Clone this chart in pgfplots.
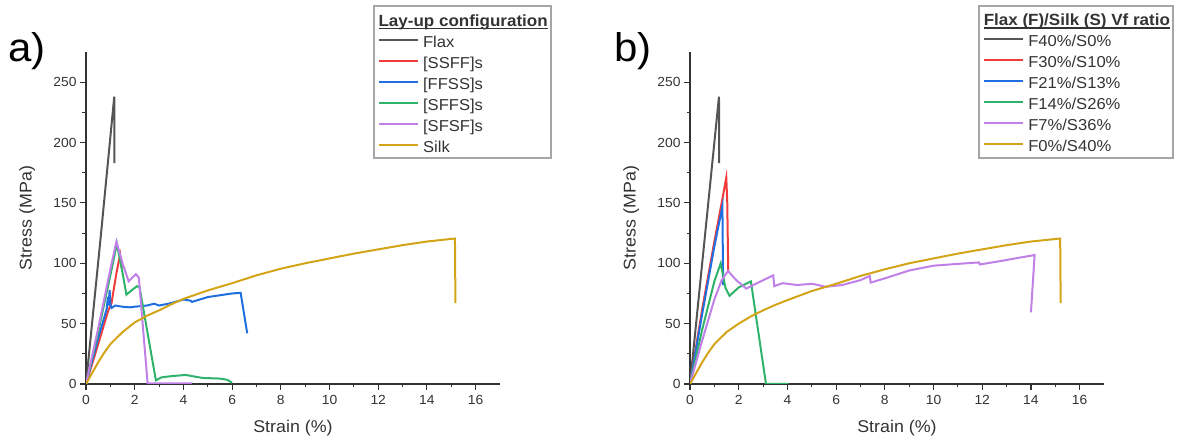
\documentclass[border=0pt]{standalone}
\usepackage{pgfplots}
\pgfplotsset{compat=1.18}
\usepackage{fontspec}
\setmainfont{Liberation Sans}[FakeStretch=1.05]

\definecolor{cflax}{HTML}{555555}
\definecolor{cred}{HTML}{F23C3C}
\definecolor{cblue}{HTML}{1F6FE0}
\definecolor{cgreen}{HTML}{2FB36A}
\definecolor{cpurple}{HTML}{C080E8}
\definecolor{cgold}{HTML}{D4A418}
\definecolor{axgray}{HTML}{333333}

% bold title with a thick underline
\newcommand\ultitle[1]{\setbox0\hbox{\fontsize{16.2}{18}\selectfont\bfseries #1}\rlap{\rule[-3.2pt]{\wd0}{1.4pt}}\box0}

\pgfplotsset{
  stressstrain/.style={
    width=414pt, height=332pt, scale only axis,
    xmin=0, xmax=17, ymin=0, ymax=275,
    xtick={0,2,...,16}, ytick={0,50,...,250},
    minor x tick num=1, minor y tick num=1,
    axis x line*=bottom, axis y line*=left,
    axis line style={-, line width=1.3pt, draw=axgray},
    tick align=outside,
    major tick length=6pt, minor tick length=3.5pt,
    every tick/.style={line width=1.1pt, draw=axgray},
    /pgf/number format/assume math mode=true,
    ticklabel style={font=\fontsize{13.2}{15}\selectfont, text=axgray},
    xticklabel style={yshift=-2pt},
    label style={font=\fontsize{17}{19}\selectfont, text=axgray},
    xlabel={Strain (\%)}, ylabel={Stress (MPa)},
    xlabel style={at={(axis description cs:0.5,-0.1325)}, anchor=center},
    ylabel style={at={(axis description cs:-0.142,0.5)}, anchor=center},
    every axis plot/.append style={line width=2pt},
    legend cell align=left,
    legend image code/.code={\draw[#1, line width=2pt] (0pt,0pt) -- (39pt,0pt); \path (41.5pt,0pt);},
    legend style={anchor=north east, draw=none, fill=none,
      font=\fontsize{15.8}{18}\selectfont, text=axgray,
      inner xsep=1.5pt, inner ysep=4pt, row sep=3.5pt,
      nodes={inner sep=1.5pt, text height=14.5pt, text depth=0pt}},
  },
  titleimage/.style={legend image code/.code={\path (0pt,0pt);}},
}

\begin{document}
\begin{tikzpicture}
\useasboundingbox (0,0) rectangle (1177pt,441pt);

\node[anchor=base west, font=\fontsize{40}{44}\selectfont, inner sep=0pt] at (8pt,379pt) {a)};
\node[anchor=base west, font=\fontsize{40}{44}\selectfont, inner sep=0pt] at (614pt,379pt) {b)};

% ---------------- a) lay-up configuration ----------------
\begin{axis}[stressstrain, at={(86pt,57pt)}, anchor=south west,
  legend style={at={(1.123,1.139)}}]
\addlegendimage{titleimage}
\addlegendentry{\hspace*{-44.5pt}\ultitle{Lay-up configuration}}

\addplot[cflax] coordinates {(0,0) (0.6,121) (1.16,238) (1.17,183)};
\addlegendentry{Flax}

\addplot[cred] coordinates {(0,0) (0.5,33) (0.9,60) (1.05,67) (1.12,76) (1.25,92) (1.4,107) (1.47,96)};
\addlegendentry{{[SSFF]s}}

\addplot[cblue] coordinates {(0,0) (0.5,38) (0.85,62) (0.9,72) (0.93,65) (0.97,78) (1.0,66)
  (1.05,63) (1.2,65) (1.5,64) (1.8,63.5) (2.0,64) (2.5,65) (2.8,66.5) (3.0,65) (3.5,67)
  (4.0,70) (4.3,69) (4.35,68) (5.0,72) (6.0,75) (6.35,75.5) (6.62,42)};
\addlegendentry{{[FFSS]s}}

\addplot[cgreen] coordinates {(0,0) (0.5,43) (1.0,90) (1.27,116) (1.5,92) (1.66,74) (1.9,78)
  (2.09,81) (2.2,80) (2.87,3) (3.1,5.5) (3.5,6.5) (4.1,7.5) (4.5,6) (4.8,5) (5.5,4.5)
  (5.8,3.5) (6.0,1)};
\addlegendentry{{[SFFS]s}}

\addplot[cpurple] coordinates {(0,0) (0.5,46) (1.0,95) (1.25,118) (1.5,100) (1.75,85)
  (2.05,91) (2.17,88) (2.53,0.5) (4.35,0.5)};
\addlegendentry{{[SFSF]s}}

\addplot[cgold] coordinates {(0,0) (0.25,9) (0.5,18) (0.75,26) (1.0,33) (1.5,43) (2.0,51)
  (2.5,56.5) (3.0,61) (3.5,66) (4.0,70.5) (5.0,77.5) (6.0,83.5) (7.0,90) (8.0,95.5)
  (9.0,100) (10.0,104) (11.0,108) (12.0,111.5) (13.0,115) (14.0,118) (15.15,120.5)
  (15.17,67)};
\addlegendentry{Silk}
\end{axis}

% ---------------- b) flax/silk volume fraction ----------------
\begin{axis}[stressstrain, at={(690pt,57pt)}, anchor=south west,
  legend style={at={(1.167,1.141)}}]
\addlegendimage{titleimage}
\addlegendentry{\hspace*{-44.5pt}\ultitle{Flax (F)/Silk (S) Vf ratio}}

\addplot[cflax] coordinates {(0,0) (0.6,120) (1.19,238) (1.2,183)};
\addlegendentry{F40\%/S0\%}

\addplot[cred] coordinates {(0,0) (0.5,62) (1.0,118) (1.3,150) (1.49,171) (1.53,150) (1.57,93)};
\addlegendentry{F30\%/S10\%}

\addplot[cblue] coordinates {(0,0) (0.5,58) (1.0,114) (1.33,147) (1.36,82)};
\addlegendentry{F21\%/S13\%}

\addplot[cgreen] coordinates {(0,0) (0.5,45) (1.0,85) (1.26,100) (1.45,80) (1.62,73)
  (2.0,80) (2.5,85) (3.12,0) (4.05,0)};
\addlegendentry{F14\%/S26\%}

\addplot[cpurple] coordinates {(0,0) (0.5,36) (1.0,70) (1.3,86) (1.56,93.6) (1.9,86)
  (2.31,79) (2.8,84) (3.42,90) (3.46,81) (3.8,83.5) (4.4,82) (5.03,83) (5.57,80.5)
  (6.25,82) (7.0,86) (7.38,89.5) (7.42,84) (8.0,87.5) (9.0,94) (10.0,98) (11.0,99.5)
  (11.86,100.7) (11.9,99) (12.8,102) (13.6,104.9) (14.15,106.8) (14.0,59.3)};
\addlegendentry{F7\%/S36\%}

\addplot[cgold] coordinates {(0,0) (0.25,9) (0.5,18) (0.75,26) (1.0,33) (1.5,43) (2.0,50)
  (2.5,56) (3.0,61) (3.5,65.5) (4.0,69.5) (5.0,77) (6.0,83) (7.0,89.5) (8.0,95)
  (9.0,100) (10.0,104) (11.0,108) (12.0,111.5) (13.0,115) (14.0,118) (15.2,120.5)
  (15.22,67)};
\addlegendentry{F0\%/S40\%}
\end{axis}

% legend frames
\draw[gray!70, line width=1.2pt] (374pt,283pt) rectangle (551pt,435pt);
\draw[gray!70, line width=1.2pt] (979pt,283pt) rectangle (1173pt,435pt);
\end{tikzpicture}
\end{document}
